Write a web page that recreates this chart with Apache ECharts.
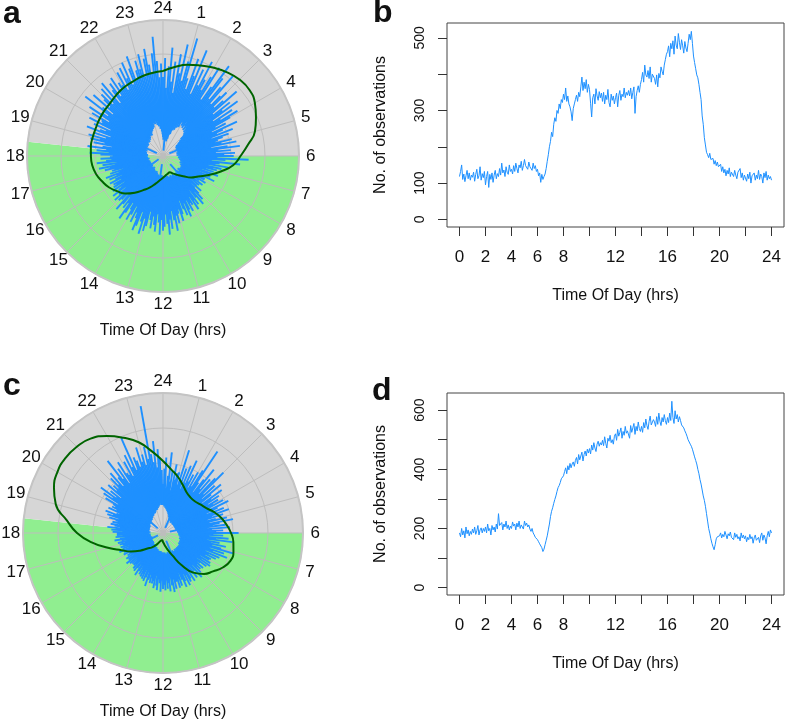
<!DOCTYPE html>
<html><head><meta charset="utf-8">
<script src="https://cdn.jsdelivr.net/npm/echarts@6/dist/echarts.min.js"></script>
<style>html,body{margin:0;padding:0;background:#fff}#c{width:787px;height:726px}</style>
</head><body><div id="c"></div><script>
const FONT = '"Liberation Sans", Arial, Helvetica, sans-serif';
const BLUE = '#1E90FF', GREEN = '#90EE90', GRAY = '#d6d6d6', GRID = '#bdbdbd', CURVE = '#006400';

// axis ticks / labels
const hourLabels = ['24','1','2','3','4','5','6','7','8','9','10','11','12','13','14','15','16','17','18','19','20','21','22','23'];
const xTickValues = [0,2,4,6,8,10,12,14,16,18,20,22,24];
const xLabelValues = [0,2,4,6,8,12,16,20,24];
const yTicksB = [0,100,200,300,400,500];
const yLabelsB = [0,100,300,500];
const yTicksD = [0,100,200,300,400,500,600];
const yLabelsD = [0,200,400,600];

// daylight period (hours) for the rose backgrounds
const daylight = [6, 18.4];

// rose bars: 12 bars per hour (5 min), radius on 0-100 scale
const barsPerHour = 12;
const roseAOuter = [
 58,72,50,66,80,55,70,47,76,62,84,57, 72,90,60,52,76,63,84,50,70,58,78,64,
 56,68,77,50,62,82,72,54,66,78,52,61, 66,52,60,72,48,63,55,68,45,61,50,64,
 57,44,52,40,60,48,43,55,38,51,46,42, 40,52,44,55,36,48,57,41,50,39,53,45,
 52,40,63,46,36,57,42,39,49,34,44,38, 41,33,39,30,43,36,29,38,32,42,31,35,
 35,28,37,32,27,36,30,34,26,33,38,29, 33,38,43,35,46,39,32,44,40,47,36,42,
 40,46,37,44,49,38,47,42,35,45,50,41, 44,51,45,56,48,41,54,47,58,50,43,52,
 55,47,58,49,43,56,51,45,54,48,42,53, 57,48,60,51,44,55,59,50,46,54,42,49,
 54,46,41,50,56,43,48,39,46,52,38,44, 46,39,48,43,36,47,41,38,45,34,43,40,
 42,35,44,39,33,43,37,45,34,41,31,39, 37,44,40,48,36,45,34,49,42,38,46,39,
 37,46,54,40,49,42,56,45,38,52,44,55, 48,57,44,53,41,60,50,46,56,43,61,51,
 52,61,47,65,55,50,72,57,48,68,53,60, 64,53,67,56,70,50,61,66,54,69,58,63,
 60,70,55,72,63,75,57,69,78,60,66,73, 66,77,60,73,80,68,61,76,88,70,58,68];
const roseAInner = [
 14,12,16,13,4,15,12,17,14,11,15,13, 16,19,17,22,20,24,21,26,23,27,24,28,
 29,26,28,25,30,27,24,28,26,23,25,22, 21,18,20,16,17,14,15,12,14,11,13,12,
 12,13,11,14,12,10,5,11,12,14,11,13, 12,11,13,10,12,14,11,13,12,10,13,12,
 13,12,14,13,11,15,13,14,12,15,14,13, 15,14,16,15,13,16,15,17,14,16,15,17,
 16,15,17,16,18,15,17,16,14,17,16,18, 17,15,18,8,17,19,16,18,15,17,16,18,
 17,16,18,15,17,16,19,17,15,18,16,17, 16,17,15,18,16,14,17,16,18,15,17,16,
 16,15,17,14,16,15,6,16,15,17,14,16, 15,14,16,13,15,12,14,15,13,14,12,14,
 13,12,14,11,13,12,10,13,12,11,13,12, 12,11,13,10,12,11,12,4,11,12,10,12,
 11,12,10,12,11,13,11,10,12,11,13,11, 12,11,13,12,10,13,12,14,11,12,13,12,
 13,12,14,11,13,15,12,14,13,12,14,13, 14,13,15,12,14,13,15,14,5,15,13,14,
 14,15,13,16,14,15,13,16,15,14,16,15, 15,16,14,17,16,18,15,17,16,18,17,19,
 18,20,17,21,19,22,20,23,21,24,22,25, 26,24,27,25,23,26,22,24,20,21,18,16];
const roseCOuter = [
 35,46,54,32,41,58,37,45,31,50,39,44, 45,36,62,40,49,34,52,39,57,41,47,37,
 50,39,53,70,44,36,48,58,41,51,38,54, 61,40,50,37,54,44,35,52,42,48,38,46,
 41,49,36,52,43,34,47,39,50,37,45,33, 39,47,34,51,41,36,45,32,48,35,43,38,
 54,36,43,33,47,38,50,32,41,35,46,36, 43,52,35,46,38,49,33,44,36,42,34,39,
 38,31,40,33,41,30,39,34,32,38,33,37, 34,39,31,42,35,30,40,36,33,41,32,38,
 40,34,42,33,38,42,36,31,40,35,41,36, 36,41,34,43,38,32,42,36,40,34,41,37,
 40,34,42,36,33,41,38,31,40,35,37,33, 37,31,35,40,30,34,37,29,36,32,35,30,
 34,28,32,36,27,31,34,26,33,29,31,27, 31,26,32,25,34,28,31,25,32,27,30,28,
 27,32,25,31,28,34,26,31,25,32,28,30, 32,28,33,26,30,35,31,27,34,29,33,30,
 33,36,29,37,34,40,31,35,38,32,37,33, 35,40,33,42,38,44,36,34,43,37,41,39,
 41,48,38,51,44,55,42,48,39,52,45,49, 45,54,47,57,44,51,65,48,56,43,60,50,
 48,58,46,62,52,74,49,58,55,50,64,53, 58,50,63,54,92,57,51,66,47,60,54,45];
const roseCInner = [
 20,22,19,21,18,20,17,19,16,18,15,16, 14,15,13,14,12,13,11,4,13,11,12,10,
 11,10,12,11,9,11,10,12,10,11,9,10, 10,11,9,10,11,9,10,11,10,9,11,10,
 10,9,11,10,9,11,10,12,10,11,9,10, 10,11,10,5,11,10,12,11,10,12,11,12,
 11,12,11,13,12,11,13,12,13,12,14,13, 13,14,12,14,13,15,14,13,15,14,13,15,
 14,15,13,15,14,16,15,14,16,15,14,16, 15,14,16,15,14,16,15,17,14,16,15,16,
 15,16,14,16,15,17,6,14,16,15,17,15, 16,15,14,16,15,17,15,16,14,15,16,14,
 15,14,16,14,15,13,15,14,13,15,14,13, 13,14,12,13,12,14,12,11,13,12,11,12,
 11,12,10,11,12,10,11,10,12,10,11,10, 10,9,11,10,9,10,11,9,10,9,10,9,
 9,10,9,4,10,9,10,9,8,10,9,10, 9,10,9,11,10,9,10,11,9,10,11,10,
 10,11,10,9,11,10,12,10,11,10,11,10, 10,11,12,10,11,12,10,11,12,11,10,12,
 11,12,11,13,12,11,13,12,12,5,11,12, 12,13,12,14,13,12,14,13,15,13,14,15,
 14,15,14,16,15,17,16,15,17,16,18,17, 18,17,19,18,20,19,21,20,22,21,20,21];

// density curves, every 0.5 h from 0 to 24 (radius on 0-100 scale)
const curveStep = 0.5;
const curveA = [62.5,66,69.5,72,75,77.5,79.5,80,78,74,70,63,57,52,44,36.5,30,26,21,17.5,15,13,13.5,14.5,
 16,18,21,25,29,34,39,42.5,46,48.5,51,52.5,53,53.5,53.5,53.5,54,54.5,55,56.5,58,59,60.5,61.5,62.5];
const curveC = [51.4,45.7,41.4,37.1,33.6,32.1,32.1,33.6,35.7,39.3,42.8,45.7,48.6,50.7,52.1,52.1,49.3,45,41.4,35.7,26.4,17.1,12.1,8.6,
 6.4,5,5.7,7.1,10,12.9,15.7,20.7,26.4,32.1,40.7,51.4,61.4,69.3,79.3,84.3,87.1,87.9,87.1,85,80,73.6,67.1,58.6,51.4];

// observations every 5 min from 0 to 24 h
const obsStep = 1/12;
const obsB = [
 118,132,150,110,125,104,120,135,112,128,108,122, 116,130,105,124,138,112,120,145,108,126,115,132,
 95,118,132,88,124,110,128,102,122,135,112,126, 118,140,122,155,128,136,118,145,130,124,150,132,
 138,125,148,132,155,140,128,150,142,160,135,148, 165,148,152,138,158,145,150,135,155,140,148,132,
 138,120,128,102,124,110,118,125,140,160,178,200, 215,240,228,262,280,270,300,292,318,305,330,322,
 345,330,362,325,340,318,310,296,272,305,318,330, 342,325,350,338,365,392,355,378,360,385,350,372,
 358,320,282,335,345,318,360,340,328,352,335,348, 325,350,318,342,330,358,322,310,345,328,340,318,
 335,348,310,342,355,328,345,338,362,335,350,342, 355,340,362,332,350,365,292,338,355,368,350,372,
 385,405,378,425,398,392,410,388,420,378,400,395, 388,372,398,365,402,390,420,408,398,425,440,455,
 462,478,448,485,470,492,455,505,480,470,512,488, 468,495,478,458,490,472,462,485,510,495,518,485,
 450,432,415,398,390,372,350,330,285,262,225,205, 185,178,170,182,165,160,168,152,162,148,158,145,
 140,152,132,145,128,138,120,135,125,142,118,130, 128,118,135,122,112,130,125,140,115,128,108,122,
 118,105,125,112,130,100,120,115,128,108,122,112, 135,110,125,118,100,128,115,132,108,122,112,118, 108];
const obsD = [
 185,172,200,178,192,168,205,182,195,175,190,180, 198,185,205,180,192,210,178,195,202,185,200,190,
 205,185,215,192,200,178,210,195,205,188,215,198, 250,210,205,220,195,215,205,225,200,212,195,208,
 200,222,208,215,195,218,205,225,200,212,208,198, 225,210,218,205,212,198,190,200,185,178,170,165,
 162,155,148,142,135,122,130,145,160,175,195,215, 240,258,270,285,298,310,325,338,345,355,368,372,
 378,392,405,385,412,398,420,405,418,425,410,430, 440,418,450,432,445,458,428,450,462,445,468,455,
 470,452,482,465,490,472,460,485,495,478,490,482, 498,480,510,488,472,505,495,515,490,500,485,512,
 520,498,535,512,525,540,505,528,515,545,522,530, 532,505,548,525,540,555,518,545,530,560,538,528,
 545,525,558,540,570,548,535,562,580,550,545,568, 560,545,578,552,590,562,548,575,560,585,565,552,
 575,558,590,565,630,575,555,598,570,585,560,578, 565,550,555,540,530,522,512,500,495,485,478,468,
 455,442,430,418,400,385,365,350,330,310,295,275, 250,225,200,184,165,150,138,128,145,165,172,168,
 175,185,168,180,172,190,178,165,182,175,188,170, 175,162,185,170,180,165,172,158,185,168,178,165,
 175,155,170,162,180,165,172,150,168,178,160,165, 170,152,175,185,160,178,168,148,175,190,172,195, 185];

// ---------- builders ----------
const LABEL_R = 108.7;
const barData = (inner, outer) => outer.map((o, i) => [i / barsPerHour, inner[i], o]);
const curveData = arr => arr.map((r, i) => [r, i * curveStep]);
const lineData = arr => arr.map((v, i) => [i * obsStep, v]);
const hourLabelData = hourLabels.map((s, i) => [LABEL_R, i]);
const bgData = [[daylight[0], daylight[1], 100, 0], [daylight[1], daylight[0], 100, 1]];

function renderBg(params, api) {
  const h0 = api.value(0), h1 = api.value(1), rmax = api.value(2);
  const c = api.coord([0, 0]);
  const pa = api.coord([rmax, h0]), pb = api.coord([rmax, h1]);
  const R = Math.hypot(pa[0] - c[0], pa[1] - c[1]);
  let a0 = Math.atan2(pa[1] - c[1], pa[0] - c[0]);
  let a1 = Math.atan2(pb[1] - c[1], pb[0] - c[0]);
  if (a1 <= a0) a1 += 2 * Math.PI;
  return {type: 'sector', shape: {cx: c[0], cy: c[1], r0: 0, r: R, startAngle: a0, endAngle: a1, clockwise: true},
    style: {fill: api.value(3) === 0 ? GREEN : GRAY}};
}
function renderBar(params, api) {
  const h = api.value(0), r0 = api.value(1), r1 = api.value(2);
  const p0 = api.coord([r0, h]), p1 = api.coord([r1, h]);
  return {type: 'line', shape: {x1: p0[0], y1: p0[1], x2: p1[0], y2: p1[1]},
    style: {stroke: BLUE, lineWidth: 1.9, fill: null}};
}

function angleAxis(i) {
  return {polarIndex: i, type: 'value', min: 0, max: 24, interval: 1, startAngle: 90, clockwise: true, z: 1,
    axisLine: {lineStyle: {color: '#c4c4c4', width: 2}}, axisTick: {show: false},
    axisLabel: {show: false},
    splitLine: {lineStyle: {color: GRID, width: 1}}};
}
function radiusAxis(i) {
  return {polarIndex: i, type: 'value', min: 0, max: 100, interval: 25, z: 1,
    axisLine: {show: false}, axisTick: {show: false}, axisLabel: {show: false},
    splitLine: {lineStyle: {color: GRID, width: 1}}};
}
function hourLabelSeries(i) {
  return {type: 'scatter', coordinateSystem: 'polar', polarIndex: i, z: 4, silent: true, clip: false,
    symbol: 'circle', symbolSize: 1, itemStyle: {color: '#ffffff', opacity: 1}, data: hourLabelData,
    label: {show: true, position: 'inside', fontSize: 17, color: '#111111', opacity: 1,
      textBorderWidth: 0, fontFamily: FONT, formatter: p => hourLabels[p.dataIndex]}};
}
function xAxis(i) {
  return {gridIndex: i, type: 'value', min: -0.96, max: 24.96,
    axisLine: {show: false, onZero: false},
    axisTick: {show: true, length: 9, lineStyle: {color: '#333'}, customValues: xTickValues},
    axisLabel: {customValues: xLabelValues, fontSize: 17, margin: 22, color: '#111', fontFamily: FONT},
    splitLine: {show: false},
    name: 'Time Of Day (hrs)', nameLocation: 'middle', nameGap: 61,
    nameTextStyle: {fontSize: 16, color: '#111', fontFamily: FONT}};
}
function yAxis(i, min, max, ticks, labels) {
  return {gridIndex: i, type: 'value', min: min, max: max,
    axisLine: {show: false, onZero: false},
    axisTick: {show: true, length: 9, lineStyle: {color: '#333'}, customValues: ticks},
    axisLabel: {customValues: labels, fontSize: 14, margin: 20, rotate: 90, color: '#111', fontFamily: FONT},
    splitLine: {show: false},
    name: 'No. of observations', nameLocation: 'middle', nameGap: 58, nameRotate: 90,
    nameTextStyle: {fontSize: 16, color: '#111', fontFamily: FONT}};
}
function txt(x, y, s, font, align) {
  return {type: 'text', x: x, y: y, style: {text: s, font: font, fill: '#111', align: align || 'left', verticalAlign: 'middle'}};
}

const option = {
  animation: false,
  polar: [{center: [163, 156], radius: 136}, {center: [163, 533], radius: 140}],
  angleAxis: [angleAxis(0), angleAxis(1)],
  radiusAxis: [radiusAxis(0), radiusAxis(1)],
  grid: [
    {left: 447, top: 23, width: 337, height: 204, show: true, borderColor: '#444', borderWidth: 1},
    {left: 447, top: 393, width: 337, height: 202, show: true, borderColor: '#444', borderWidth: 1}],
  xAxis: [xAxis(0), xAxis(1)],
  yAxis: [yAxis(0, -21, 541, yTicksB, yLabelsB), yAxis(1, -25, 658, yTicksD, yLabelsD)],
  graphic: [
    txt(3, 14, 'a', 'bold 32px ' + FONT), txt(373, 13, 'b', 'bold 32px ' + FONT),
    txt(3, 386, 'c', 'bold 32px ' + FONT), txt(372, 391, 'd', 'bold 32px ' + FONT),
    txt(163, 331, 'Time Of Day (hrs)', '16px ' + FONT, 'center'),
    txt(163, 712, 'Time Of Day (hrs)', '16px ' + FONT, 'center')],
  series: [
    {type: 'custom', coordinateSystem: 'polar', polarIndex: 0, z: 0, silent: true, renderItem: renderBg, data: bgData, encode: {angle: 0, radius: 2}},
    {type: 'custom', coordinateSystem: 'polar', polarIndex: 1, z: 0, silent: true, renderItem: renderBg, data: bgData, encode: {angle: 0, radius: 2}},
    {type: 'custom', coordinateSystem: 'polar', polarIndex: 0, z: 2, silent: true, renderItem: renderBar, data: barData(roseAInner, roseAOuter), encode: {angle: 0, radius: 2}},
    {type: 'custom', coordinateSystem: 'polar', polarIndex: 1, z: 2, silent: true, renderItem: renderBar, data: barData(roseCInner, roseCOuter), encode: {angle: 0, radius: 2}},
    {type: 'line', coordinateSystem: 'polar', polarIndex: 0, z: 3, silent: true, showSymbol: false, smooth: 0.5,
      lineStyle: {color: CURVE, width: 2}, data: curveData(curveA)},
    {type: 'line', coordinateSystem: 'polar', polarIndex: 1, z: 3, silent: true, showSymbol: false, smooth: 0.5,
      lineStyle: {color: CURVE, width: 2}, data: curveData(curveC)},
    hourLabelSeries(0), hourLabelSeries(1),
    {type: 'line', xAxisIndex: 0, yAxisIndex: 0, z: 3, silent: true, showSymbol: false,
      lineStyle: {color: BLUE, width: 1}, data: lineData(obsB)},
    {type: 'line', xAxisIndex: 1, yAxisIndex: 1, z: 3, silent: true, showSymbol: false,
      lineStyle: {color: BLUE, width: 1}, data: lineData(obsD)}
  ]
};
const chart = echarts.init(document.getElementById('c'), null, {renderer: 'canvas'});
chart.setOption(option);
</script></body></html>
